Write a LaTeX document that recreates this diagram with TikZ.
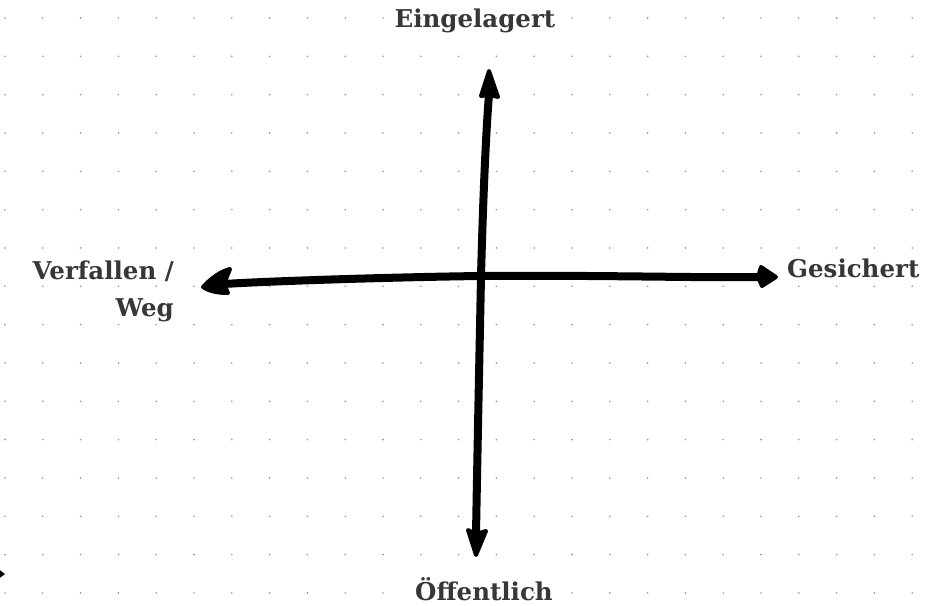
\documentclass[tikz,border=0pt]{standalone}
\usepackage{fontspec}
\setmainfont{DejaVu Serif}
\definecolor{labelgray}{RGB}{55,55,55}
\definecolor{dotgray}{RGB}{150,150,150}
\tikzset{
  axis/.style={line width=8pt, line cap=round, line join=round},
  arrowhead/.style={fill=black, draw=black, line width=4pt, line join=round},
  axislabel/.style={font=\bfseries\fontsize{24.5}{37}\selectfont, text=labelgray, inner sep=0pt},
  griddot/.style={fill=dotgray}
}
\begin{document}
\begin{tikzpicture}[x=1pt,y=-1pt]
  \useasboundingbox (0,0) rectangle (942,605);
  \fill[white] (0,0) rectangle (942,605);
  % dotted grid
  \foreach \i in {0,...,24}{
    \foreach \j in {0,...,15}{
      \fill[griddot] ({5+\i*37.8},{18+\j*38.33}) circle (0.9pt);
    }
  }
  % anchor points
  \coordinate (top) at (489,71);
  \coordinate (topbase) at (489,95);
  \coordinate (bottom) at (476,555);
  \coordinate (bottombase) at (476,534);
  \coordinate (left) at (203,287);
  \coordinate (leftbase) at (224,284);
  \coordinate (right) at (776,277);
  \coordinate (rightbase) at (758,277);
  \coordinate (center) at (481,276);
  % axes
  \draw[axis] (bottombase) .. controls (478,420) and (480,330) .. (center)
                           .. controls (483,200) and (486,130) .. (topbase);
  \draw[axis] (leftbase) .. controls (270,281) and (400,277) .. (center)
                         .. controls (600,275) and (700,278) .. (rightbase);
  % arrowheads
  \filldraw[arrowhead] (top) -- (498,97) -- (topbase) -- (481,96) -- cycle;
  \filldraw[arrowhead] (bottom) -- (468,530) -- (bottombase) -- (486,531) -- cycle;
  \filldraw[arrowhead] (left) .. controls (212,277) and (222,271) .. (230,269)
        -- (leftbase) -- (228,293) .. controls (220,293) and (210,292) .. cycle;
  \filldraw[arrowhead] (right) -- (762,286) -- (rightbase) -- (761,267) -- cycle;
  % labels
  \node[axislabel] (eingelagert) at (475,21) {Eingelagert};
  \node[axislabel, anchor=west] (gesichert) at (787,268) {Gesichert};
  \node[axislabel, anchor=east, align=right] (verfallen) at (174,291) {Verfallen /\\Weg};
  \node[axislabel] (oeffentlich) at (484,589) {Öffentlich};
  % partial mark at the lower left edge
  \fill (-3,568) -- (5,574) -- (-3,580) -- cycle;
\end{tikzpicture}
\end{document}
